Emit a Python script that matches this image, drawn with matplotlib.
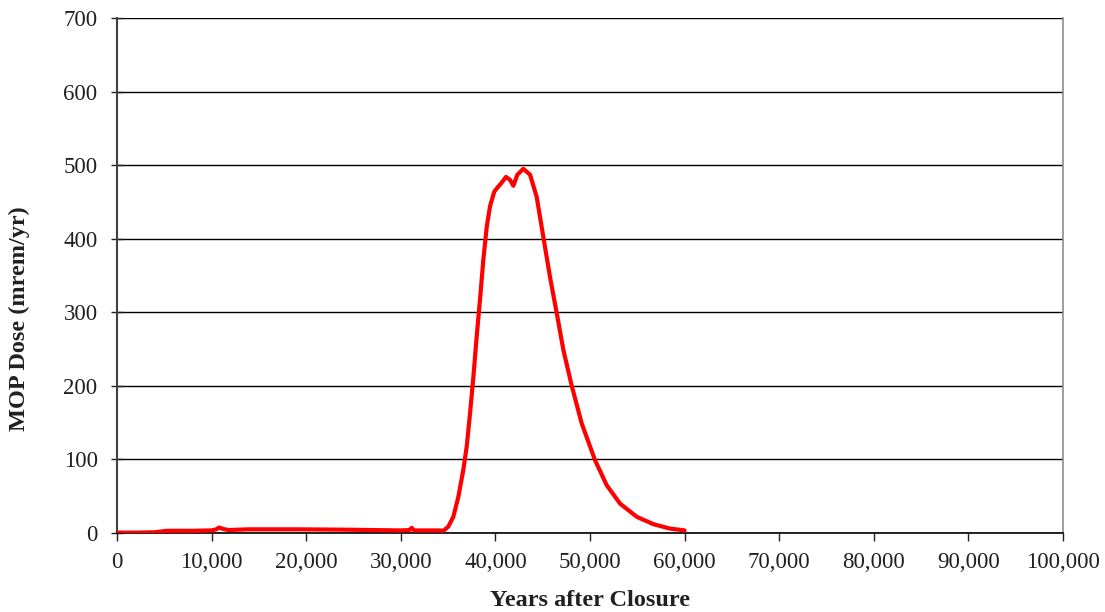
import numpy as np
import matplotlib.pyplot as plt
from matplotlib.ticker import FuncFormatter

plt.rcParams['font.family'] = ['Liberation Serif', 'DejaVu Serif']

# MOP dose curve
years = [0, 2000, 4000, 5250, 8000, 10000, 10500, 10800, 11200, 11800, 14000,
         19000, 24000, 30000, 30900, 31150, 31400, 33000, 34000, 34500,
         35020, 35550, 36080, 36610, 36960, 37320, 37670, 38020, 38370, 38720,
         39080, 39430, 39880, 40310, 40590, 41120, 41540, 41900, 42320, 42950,
         43660, 44360, 45070, 45770, 46480, 47180, 48070, 49120, 50530, 51760,
         53170, 54940, 56690, 58460, 59690, 60000]
dose = [0.5, 0.5, 1, 3, 3, 3.5, 5, 7.5, 5.5, 4, 5,
        5, 4.5, 3.5, 4, 7, 3.5, 3.5, 3.5, 3,
        8.6, 22, 49, 86, 117, 163, 212, 267, 317, 371,
        416, 444, 464, 471, 475, 484, 480, 472, 487, 495,
        487, 457, 402, 348, 299, 249, 200, 149, 99, 65,
        40, 22, 12, 6, 4, 3.5]

x_ticks = np.arange(0, 100001, 10000)
y_ticks = np.arange(0, 701, 100)

fig = plt.figure(figsize=(11.05, 6.12), dpi=100)
ax = fig.add_axes([0.1059, 0.1291, 0.8561, 0.8415])

ax.plot(years, dose, color='#ff0000', lw=3, solid_capstyle='round',
        solid_joinstyle='round', zorder=3)

ax.set_xlim(0, 100000)
ax.set_ylim(0, 700)
ax.set_xticks(x_ticks)
ax.set_yticks(y_ticks)
ax.xaxis.set_major_formatter(FuncFormatter(lambda v, p: f'{int(v):,}'))

ax.yaxis.grid(True, color='black', lw=1)
ax.set_axisbelow(True)

ax.spines['top'].set_visible(False)
ax.spines['right'].set_color('#8c8c8c')
ax.spines['right'].set_linewidth(1.2)
ax.spines['left'].set_color('#404040')
ax.spines['left'].set_linewidth(1.5)
ax.spines['bottom'].set_color('black')
ax.spines['bottom'].set_linewidth(1.2)

ax.tick_params(axis='y', direction='inout', length=8, width=1, pad=10,
               labelsize=16.5, colors='#202020')
ax.tick_params(axis='x', direction='out', length=6, width=1, pad=8,
               labelsize=16.5, colors='#202020')

ax.set_xlabel('Years after Closure', fontsize=17.5, fontweight='bold',
              color='#202020', labelpad=12)
ax.set_ylabel('MOP Dose (mrem/yr)', fontsize=17.5, fontweight='bold',
              color='#202020', labelpad=24)
ax.yaxis.label.set_y(0.417)

fig.savefig('out.png', dpi=100)
